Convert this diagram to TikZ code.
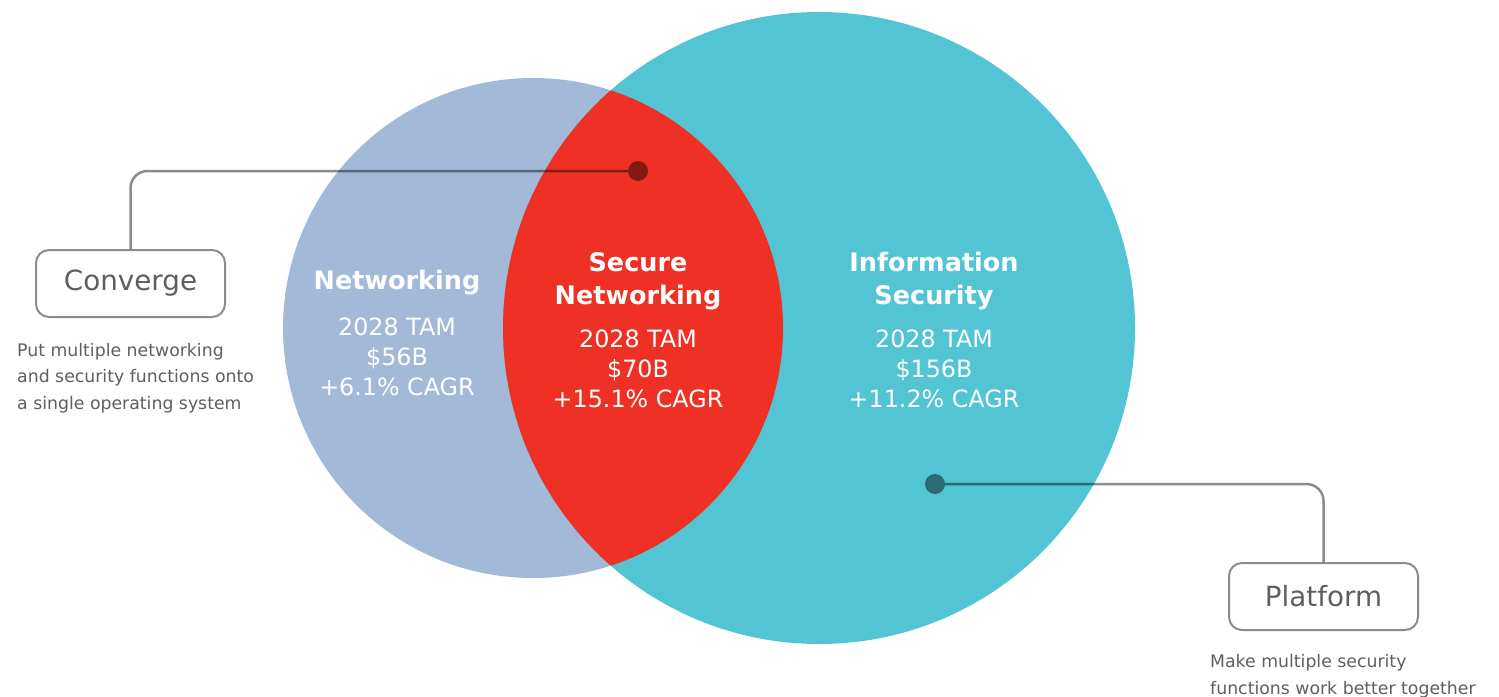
\documentclass[tikz,border=0pt]{standalone}
\usepackage{fontspec}
\setmainfont{DejaVu Sans}
\usetikzlibrary{positioning}
\definecolor{netblue}{HTML}{A2B9D8}
\definecolor{seccyan}{HTML}{52C4D4}
\definecolor{secred}{HTML}{EE3124}
\definecolor{boxgray}{HTML}{8C8C8C}
\definecolor{txtgray}{HTML}{5F5F5F}

\begin{document}
\begin{tikzpicture}[
				x=1pt,y=-1pt,
				head/.style={text=white,font=\fontsize{25.5}{33}\selectfont\bfseries,align=center,inner sep=0pt},
				figs/.style={text=white,font=\fontsize{23.8}{30}\selectfont,align=center,inner sep=0pt},
				tag/.style={draw=boxgray,line width=2pt,rounded corners=13pt,minimum width=189pt,minimum height=67pt,text=txtgray,font=\fontsize{27.8}{32}\selectfont},
				desc/.style={text=txtgray,font=\fontsize{17.3}{26.5}\selectfont,align=left,inner sep=0pt},
				link/.style={draw=black,draw opacity=0.45,line width=2.5pt,rounded corners=17pt},
				dot/.style={circle,fill=black,fill opacity=0.45,minimum size=20pt,inner sep=0pt}
				]
				\useasboundingbox[fill=white] (0,0) rectangle (1499,696);
				
				% Cerchi
				\node[circle,fill=netblue,minimum size=500pt,inner sep=0pt] (net) at (533,328) {};
				\node[circle,fill=seccyan,minimum size=632pt,inner sep=0pt] (infosec) at (819,328) {};
				\begin{scope}
					\clip (533,328) circle[radius=250];
					\fill[secred] (819,328) circle[radius=316];
				\end{scope}
				
				% Testi
				\node[head] (nethead) at (397,283) {Networking};
				\node[figs] (netfigs) at (397,357) {2028 TAM\\\$56B\\+6.1\% CAGR};
				\node[head] (sechead) at (638,281) {Secure\\Networking};
				\node[figs] (secfigs) at (638,369) {2028 TAM\\\$70B\\+15.1\% CAGR};
				\node[head] (ishead) at (934,281) {Information\\Security};
				\node[figs] (isfigs) at (934,369) {2028 TAM\\\$156B\\+11.2\% CAGR};
				
				% Etichette
				\node[tag] (conv) at (130.5,283.5) {Converge};
				\node[desc,anchor=north west] (convdesc) at (17,343) {Put multiple networking\\and security functions onto\\a single operating system};
				\node[tag] (plat) at (1323.5,596.5) {Platform};
				\node[desc,anchor=north west] (platdesc) at (1210,654.5) {Make multiple security\\functions work better together};
				
				% Connessioni
				\node[dot] (secdot) at (638,171) {};
				\node[dot] (isdot) at (935,484) {};
				\draw[link] (conv.north) |- (secdot.west);
				\draw[link] (isdot.east) -| (plat.north);
				
			\end{tikzpicture}
\end{document}
